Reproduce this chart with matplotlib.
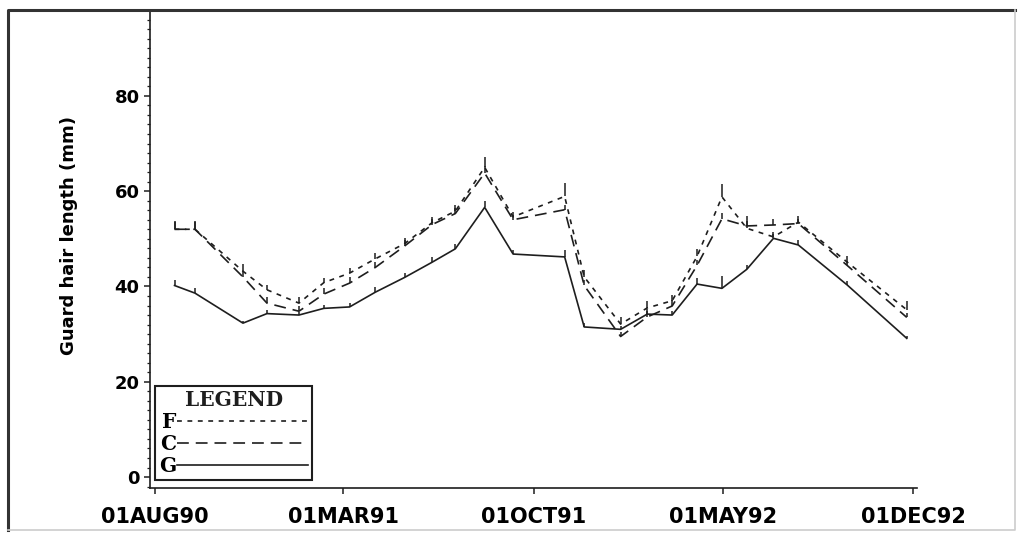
import matplotlib
matplotlib.use('Agg')
import matplotlib.pyplot as plt
import matplotlib.dates as mdates
from matplotlib.ticker import MultipleLocator
from matplotlib.lines import Line2D
import numpy as np
import pandas as pd

plt.rcParams['lines.scale_dashes'] = False

# sampling dates
sample_dates = pd.to_datetime([
    '1990-08-23', '1990-09-15', '1990-11-08', '1990-12-05', '1991-01-10',
    '1991-02-07', '1991-03-08', '1991-04-06', '1991-05-09', '1991-06-09',
    '1991-07-05', '1991-08-07', '1991-09-08', '1991-11-05', '1991-11-27',
    '1992-01-07', '1992-02-06', '1992-03-05', '1992-04-02', '1992-04-30',
    '1992-05-28', '1992-06-27', '1992-07-25', '1992-09-18', '1992-11-24'])

# guard hair length (mm) and upper error bars
f_length = [52.0, 52.0, 43.2, 39.3, 36.5, 40.8, 42.8, 45.8, 49.0, 53.4,
            55.8, 65.0, 54.6, 58.9, 42.0, 32.1, 35.5, 37.0, 46.3, 58.8,
            52.2, 50.4, 53.5, 45.1, 35.1]
f_err = [1.7, 1.7, 1.5, 1.1, 1.3, 1.0, 1.0, 1.2, 1.2, 1.2,
         1.2, 2.1, 1.0, 2.9, 1.5, 1.5, 1.5, 1.2, 1.5, 2.8,
         2.5, 1.0, 1.2, 1.2, 1.8]

c_length = [52.0, 52.0, 42.0, 36.5, 34.8, 38.4, 40.7, 44.0, 48.5, 53.0,
            55.3, 63.8, 54.0, 56.1, 40.2, 29.5, 33.6, 35.9, 44.4, 54.2,
            52.7, 52.9, 53.2, 44.4, 33.5]
c_err = [1.5, 1.5, 1.2, 1.3, 1.0, 1.2, 1.2, 1.2, 1.2, 1.2,
         1.2, 1.5, 1.0, 1.0, 1.2, 1.0, 1.2, 1.2, 1.2, 1.3,
         1.0, 1.2, 1.0, 1.0, 1.0]

g_length = [40.2, 38.6, 32.3, 34.3, 34.0, 35.4, 35.7, 38.8, 41.9, 45.1,
            47.9, 56.6, 46.8, 46.2, 31.5, 31.0, 34.2, 34.0, 40.5, 39.6,
            43.6, 50.1, 48.7, 40.3, 29.1]
g_err = [1.2, 1.0, 0.5, 0.8, 0.6, 0.8, 0.8, 1.0, 1.0, 1.0,
         1.0, 1.3, 0.8, 1.5, 0.8, 0.8, 1.0, 0.8, 1.2, 2.5,
         1.0, 1.0, 1.0, 0.8, 0.6]

tick_dates = pd.to_datetime(['1990-08-01', '1991-03-01', '1991-10-01',
                             '1992-05-01', '1992-12-01'])
tick_labels = ['01AUG90', '01MAR91', '01OCT91', '01MAY92', '01DEC92']

ink = '#1e1e1e'
W, H = 1021, 540

fig = plt.figure(figsize=(W / 100, H / 100), dpi=100)
ax = fig.add_axes([150 / W, 52 / H, 767 / W, 476 / H])

series = [
    ('F', f_length, f_err, (0, (3.5, 4.0))),
    ('C', c_length, c_err, (0, (8.5, 5.0))),
    ('G', g_length, g_err, '-'),
]
handles = []
for name, vals, err, ls in series:
    cont = ax.errorbar(sample_dates, vals, yerr=[np.zeros(len(err)), err],
                       color=ink, lw=1.2, ls=ls, elinewidth=1.1, capsize=0)
    handles.append(cont[0])

start = mdates.date2num(tick_dates[0])
end = mdates.date2num(tick_dates[-1])
ax.set_xlim(start - 5.6, end + 4.5)
ax.set_ylim(-2.3, 97.6)

ax.set_xticks(tick_dates)
ax.set_xticklabels(tick_labels)
ax.set_yticks([0, 20, 40, 60, 80])
ax.yaxis.set_minor_locator(MultipleLocator(2))

for lab in ax.get_xticklabels():
    lab.set_fontsize(15)
    lab.set_fontweight('heavy')
    lab.set_color('black')
for lab in ax.get_yticklabels():
    lab.set_fontsize(13)
    lab.set_fontweight('heavy')
    lab.set_color('black')

ax.tick_params(axis='x', which='major', length=4.5, width=1.1, pad=9, color=ink)
ax.tick_params(axis='y', which='major', length=4.5, width=1.1, pad=3, color=ink)
ax.tick_params(axis='y', which='minor', length=2.2, width=0.9, color=ink)

ax.spines['top'].set_visible(False)
ax.spines['right'].set_visible(False)
for s in ['left', 'bottom']:
    ax.spines[s].set_linewidth(1.2)
    ax.spines[s].set_color(ink)

ax.set_ylabel('Guard hair length (mm)', fontsize=13, fontweight='bold', color='black')
ax.yaxis.set_label_coords(-0.094, 0.53)

leg_font = {'family': 'DejaVu Serif', 'weight': 'bold', 'size': 14.5}
leg = ax.legend(handles, ['F', 'C', 'G'], title='LEGEND', prop=leg_font,
                title_fontproperties=leg_font, markerfirst=False,
                loc='lower left', bbox_to_anchor=(0.0065, 0.0168),
                borderaxespad=0, borderpad=0.2, handletextpad=0.05,
                handlelength=6.5, labelspacing=0.1, fancybox=False,
                framealpha=1, edgecolor=ink)
leg.get_frame().set_linewidth(1.5)
leg.get_title().set_color(ink)

# figure border
fig.add_artist(Line2D([8 / W, 8 / W, 1015 / W], [10 / H, 530 / H, 530 / H],
                      transform=fig.transFigure, color='#333333', lw=2.2))
fig.add_artist(Line2D([8 / W, 1015 / W, 1015 / W], [10 / H, 10 / H, 530 / H],
                      transform=fig.transFigure, color='#cccccc', lw=1.2))

fig.savefig('out.png', dpi=100)
